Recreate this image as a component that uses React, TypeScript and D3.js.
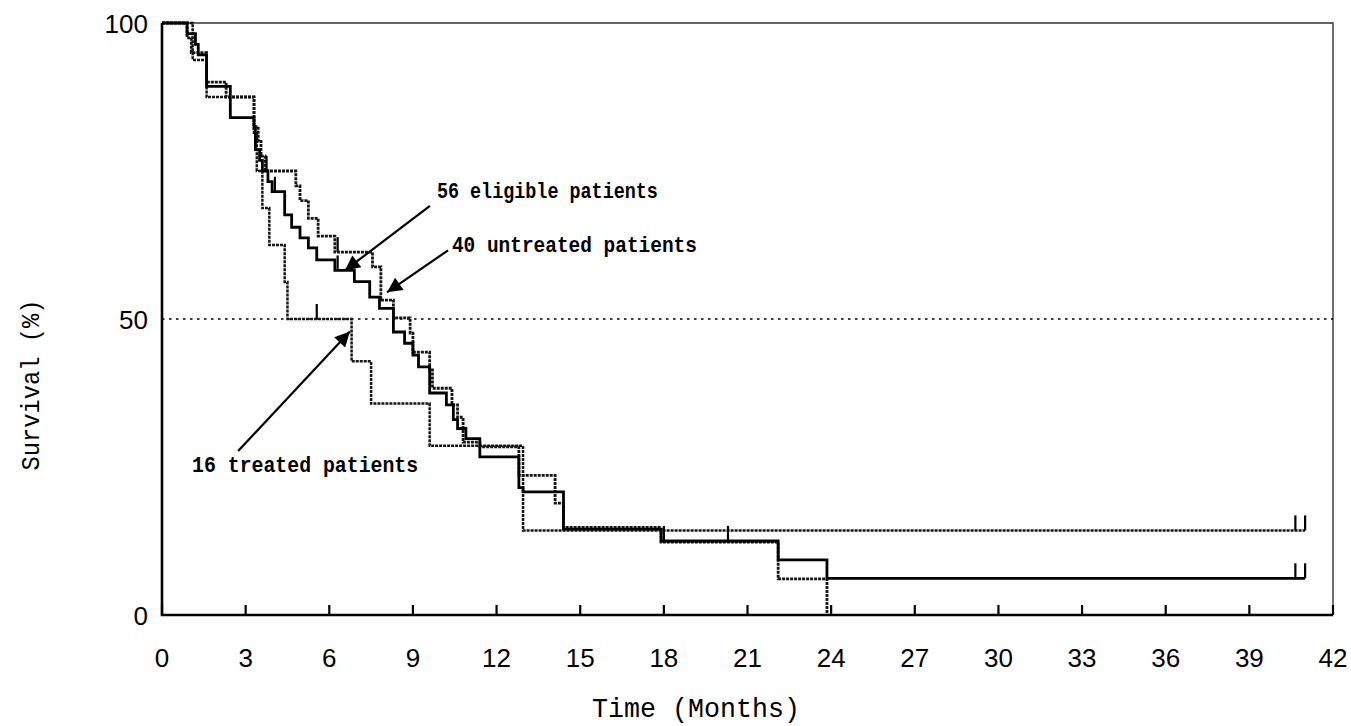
import React, { useEffect, useRef } from "react";
import * as d3 from "d3";

const W = 1351;
const H = 726;

// Kaplan-Meier step points: [months, survival %], value holds until next point
const eligible: [number, number][] = [
  [0, 100], [0.9, 98.2], [1.2, 96.4], [1.3, 94.6], [1.6, 89.3], [2.45, 84],
  [3.3, 82.1], [3.35, 78.6], [3.5, 76.8], [3.6, 75], [3.8, 73.2], [3.95, 71.5],
  [4.4, 67.6], [4.65, 65.5], [4.95, 63.7], [5.25, 62], [5.55, 60], [6.2, 58.2],
  [6.9, 56.3], [7.45, 53.7], [7.8, 51.8], [8.3, 47.8], [8.7, 45.9], [9.0, 43.9],
  [9.2, 41.9], [9.6, 37.5], [10.2, 35.5], [10.45, 33], [10.6, 31.5], [10.9, 29.8],
  [11.4, 26.7], [12.8, 21.5], [12.95, 20.8], [14.4, 14.5], [17.9, 12.5],
  [22.1, 9.3], [23.85, 6.2],
];
const untreated: [number, number][] = [
  [0, 100], [0.9, 97.5], [1.05, 95], [1.6, 90], [2.3, 87.5], [3.3, 82.5],
  [3.45, 80], [3.55, 77.5], [3.7, 75], [4.8, 72.5], [4.95, 70], [5.25, 67],
  [5.6, 64], [6.2, 61.3], [7.55, 58.8], [7.85, 53.2], [8.3, 50.2], [8.9, 47.6],
  [9.0, 44.4], [9.6, 41.4], [9.7, 38.3], [10.4, 35.5], [10.6, 33.4], [10.8, 29.2],
  [11.4, 28.4], [12.8, 23.6], [14.1, 18.9], [14.4, 14.8], [17.9, 12.3],
  [22.1, 6.1], [23.85, 0],
];
const treated: [number, number][] = [
  [0, 100], [1.1, 93.75], [1.6, 87.5], [3.3, 81.25], [3.4, 75], [3.6, 68.75],
  [3.85, 62.5], [4.4, 56.25], [4.5, 50], [6.8, 42.86], [7.5, 35.71],
  [9.6, 28.57], [12.95, 14.29],
];

// censored observations (months)
const eligibleCensored = [4.05, 6.3, 18.0, 20.3, 40.65, 41];
const untreatedCensored = [3.75, 6.3];
const treatedCensored = [5.55, 40.65, 41];
const followUpEnd = 41;

const xTicks = [0, 3, 6, 9, 12, 15, 18, 21, 24, 27, 30, 33, 36, 39, 42];
const yTicks = [0, 50, 100];

// annotation: label, text anchor [t, s], arrow start, arrow tip
const notes = [
  { label: "56 eligible patients", at: [9.86, 70.4], len: 221, from: [9.61, 69.1], to: [6.56, 58.2] },
  { label: "40 untreated patients", at: [10.4, 61.4], len: 245, from: [10.26, 61.6], to: [8.07, 54.5] },
  { label: "16 treated patients", at: [1.08, 24.1], len: 226, from: [2.73, 27.7], to: [6.74, 47.9] },
];

function valueAt(pts: [number, number][], t: number) {
  let v = pts[0][1];
  for (const p of pts) if (p[0] <= t) v = p[1];
  return v;
}

export default function App() {
  const ref = useRef<SVGSVGElement>(null);

  useEffect(() => {
    const svg = d3.select(ref.current);
    svg.selectAll("*").remove();

    const x = d3.scaleLinear().domain([0, 42]).range([162, 1333]);
    const y = d3.scaleLinear().domain([0, 100]).range([615, 23]);

    svg.append("defs").append("marker")
      .attr("id", "head")
      .attr("viewBox", "0 0 10 10")
      .attr("refX", 10).attr("refY", 5)
      .attr("markerUnits", "userSpaceOnUse")
      .attr("markerWidth", 22).attr("markerHeight", 15)
      .attr("orient", "auto")
      .append("path").attr("d", "M0,0L10,5L0,10Z").attr("fill", "#000");

    // outer frame (top, right)
    svg.append("path")
      .attr("d", `M${x(0)},${y(100)}H${x(42)}V${y(0)}`)
      .attr("fill", "none").attr("stroke", "#333").attr("stroke-width", 1.4);

    // 50% reference
    svg.append("line")
      .attr("x1", x(0)).attr("x2", x(42))
      .attr("y1", y(50)).attr("y2", y(50))
      .attr("stroke", "#000").attr("stroke-width", 1.6)
      .attr("stroke-dasharray", "2.5 4.5");

    const line = d3.line<[number, number]>()
      .x(d => x(d[0])).y(d => y(d[1]))
      .curve(d3.curveStepAfter);

    const curves = [
      { pts: untreated, cens: untreatedCensored, color: "#151515", width: 2.8, dash: "3 1", end: null },
      { pts: treated, cens: treatedCensored, color: "#151515", width: 2.5, dash: "3 1", end: followUpEnd },
      { pts: eligible, cens: eligibleCensored, color: "#000", width: 2.8, dash: null, end: followUpEnd },
    ];

    curves.forEach(c => {
      const pts = c.end ? [...c.pts, [c.end, c.pts[c.pts.length - 1][1]] as [number, number]] : c.pts;
      svg.append("path")
        .attr("d", line(pts))
        .attr("fill", "none")
        .attr("stroke", c.color)
        .attr("stroke-width", c.width)
        .attr("stroke-dasharray", c.dash);
      svg.selectAll(null).data(c.cens).enter().append("line")
        .attr("x1", d => x(d)).attr("x2", d => x(d))
        .attr("y1", d => y(valueAt(c.pts, d)))
        .attr("y2", d => y(valueAt(c.pts, d)) - 15)
        .attr("stroke", "#000").attr("stroke-width", 2.2);
    });

    // axes
    svg.append("path")
      .attr("d", `M${x(0)},${y(100)}V${y(0)}H${x(42)}`)
      .attr("fill", "none").attr("stroke", "#000").attr("stroke-width", 2.6);

    svg.selectAll(null).data(xTicks).enter().append("line")
      .attr("x1", d => x(d)).attr("x2", d => x(d))
      .attr("y1", y(0)).attr("y2", y(0) - 10)
      .attr("stroke", "#000").attr("stroke-width", 2.2);

    svg.selectAll(null).data(xTicks).enter().append("text")
      .attr("x", d => x(d)).attr("y", 667)
      .attr("text-anchor", "middle")
      .attr("font-family", "Liberation Sans, Arial, sans-serif")
      .attr("font-size", 26)
      .text(d => d);

    svg.selectAll(null).data(yTicks).enter().append("text")
      .attr("x", 148).attr("y", d => y(d) + 10)
      .attr("text-anchor", "end")
      .attr("font-family", "Liberation Sans, Arial, sans-serif")
      .attr("font-size", 26)
      .text(d => d);

    svg.append("text")
      .attr("x", 696).attr("y", 717)
      .attr("text-anchor", "middle")
      .attr("font-family", "Liberation Mono, monospace")
      .attr("font-size", 27)
      .attr("textLength", 208).attr("lengthAdjust", "spacingAndGlyphs")
      .text("Time (Months)");

    svg.append("text")
      .attr("transform", "translate(39,385) rotate(-90)")
      .attr("text-anchor", "middle")
      .attr("font-family", "Liberation Mono, monospace")
      .attr("font-size", 26)
      .attr("textLength", 171).attr("lengthAdjust", "spacingAndGlyphs")
      .text("Survival (%)");

    // annotations
    notes.forEach(n => {
      svg.append("text")
        .attr("x", x(n.at[0])).attr("y", y(n.at[1]))
        .attr("font-family", "Liberation Mono, monospace")
        .attr("font-size", 22).attr("font-weight", "bold")
        .attr("textLength", n.len).attr("lengthAdjust", "spacingAndGlyphs")
        .text(n.label);
      svg.append("line")
        .attr("x1", x(n.from[0])).attr("y1", y(n.from[1]))
        .attr("x2", x(n.to[0])).attr("y2", y(n.to[1]))
        .attr("stroke", "#000").attr("stroke-width", 2.2)
        .attr("marker-end", "url(#head)");
    });
  }, []);

  return (
    <svg
      ref={ref}
      width={W}
      height={H}
      style={{ position: "absolute", left: 0, top: 0, background: "#fff", display: "block" }}
    />
  );
}
